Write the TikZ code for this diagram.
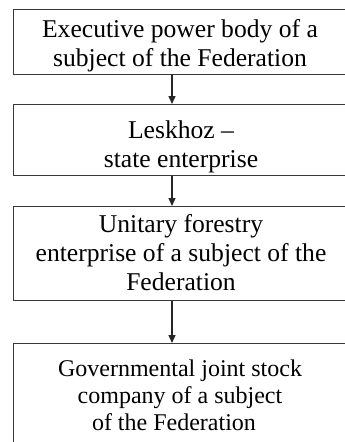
\documentclass[tikz,border=0pt]{standalone}
\usepackage{fontspec}
\setmainfont{Liberation Serif}
\usetikzlibrary{arrows.meta}
\begin{document}
\begin{tikzpicture}[x=1pt,y=-1pt,
  orgbox/.style={draw=black!78, line width=1.1pt, rectangle, inner sep=0pt, anchor=north west},
  boxtext/.style={align=center, anchor=base, inner sep=0pt, font=\fontsize{25.6}{28.8}\selectfont},
  link/.style={draw=black!85, line width=1.4pt, -{Triangle[length=8pt,width=7pt]}}]
  \useasboundingbox (0,0) rectangle (345,442);
  \begin{scope}
    \clip (0,0) rectangle (345,442);
    % boxes of the chain, top to bottom
    \node[orgbox, minimum width=340pt, minimum height=65pt] (b1) at (12.7,9.3) {};
    \node[orgbox, minimum width=340pt, minimum height=71pt] (b2) at (12.7,104) {};
    \node[orgbox, minimum width=340pt, minimum height=94pt] (b3) at (12.7,206) {};
    \node[orgbox, minimum width=340pt, minimum height=110pt] (b4) at (12.7,343) {};
  \end{scope}
  % texts, placed by the baseline of their last line
  \node[boxtext] (t1) at (180,66) {Executive power body of a\\subject of the Federation};
  \node[boxtext] (t2) at (181,167) {Leskhoz --\\state enterprise};
  \node[boxtext] (t3) at (181,290) {Unitary forestry\\enterprise of a subject of the\\Federation};
  \node[boxtext, font=\fontsize{24}{27}\selectfont] (t4) at (180,430) {Governmental joint stock\\company of a subject\\of the Federation\hspace*{12pt}};
  % arrows between the boxes
  \draw[link] (b1.south -| 172,0) -- (b2.north -| 172,0);
  \draw[link] (b2.south -| 172,0) -- (b3.north -| 172,0);
  \draw[link] (b3.south -| 172,0) -- (b4.north -| 172,0);
\end{tikzpicture}
\end{document}
